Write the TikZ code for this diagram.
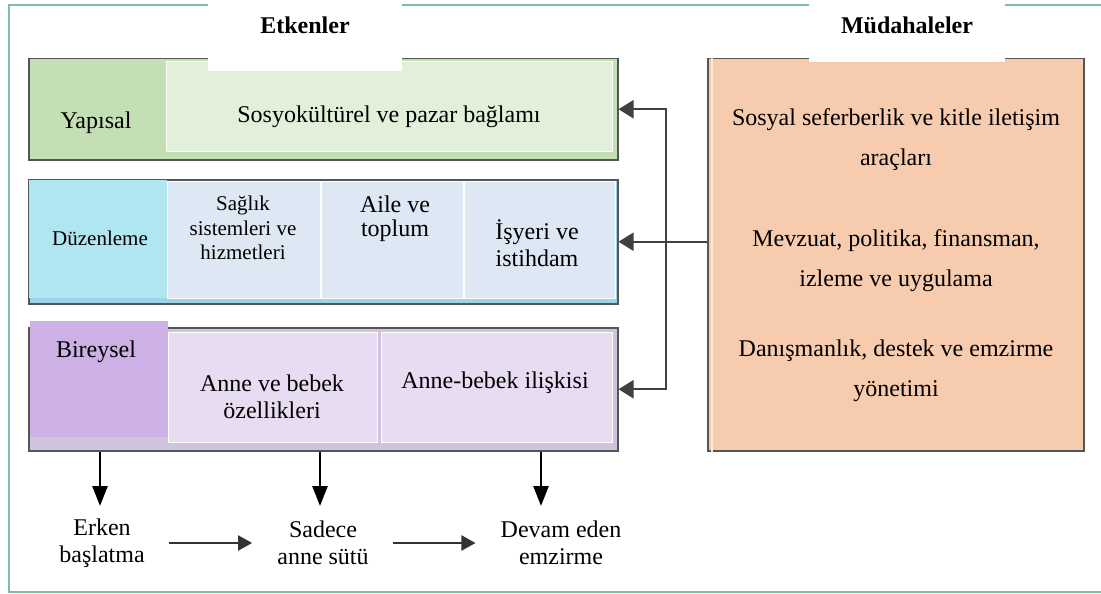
\documentclass[tikz,border=0pt]{standalone}
\usepackage{fontspec}
\setmainfont{Liberation Serif}
\usetikzlibrary{arrows.meta, positioning, shadows}

\definecolor{framegreen}{RGB}{125,190,155}
\definecolor{strucdark}{RGB}{197,223,180}
\definecolor{struclight}{RGB}{226,239,217}
\definecolor{regcyan}{RGB}{176,230,242}
\definecolor{regbase}{RGB}{157,211,230}
\definecolor{reglight}{RGB}{221,232,244}
\definecolor{indpurple}{RGB}{205,176,230}
\definecolor{indbase}{RGB}{208,195,224}
\definecolor{indlight}{RGB}{232,220,243}
\definecolor{intsalmon}{RGB}{247,203,173}
\definecolor{boxline}{RGB}{85,85,85}

\begin{document}
\begin{tikzpicture}[
    x=1pt, y=-1pt,
    band/.style={rectangle, draw=boxline, line width=1.5pt, anchor=north west, inner sep=0pt, drop shadow={shadow xshift=1.5pt, shadow yshift=-1.5pt, fill=black!40}},
    cell/.style={rectangle, draw=white, line width=1pt, anchor=north west, inner sep=0pt},
    tab/.style={rectangle, anchor=north west, inner sep=0pt},
    patch/.style={rectangle, fill=white, anchor=north west, inner sep=0pt},
    txt/.style={align=center, inner sep=0pt, font=\fontsize{24}{27}\selectfont},
    small/.style={align=center, inner sep=0pt, font=\fontsize{21}{24.5}\selectfont},
    wide/.style={align=center, inner sep=0pt, font=\fontsize{24}{40}\selectfont},
    head/.style={inner sep=0pt, font=\fontsize{24}{28}\selectfont\bfseries},
    side/.style={draw=black!75, line width=2pt, >={Triangle[length=15pt, width=18pt]}},
    down/.style={-{Triangle[length=20pt, width=15pt]}, line width=2.5pt},
    flow/.style={-{Triangle[length=14pt, width=15pt]}, draw=black!80, line width=2pt, shorten <=24pt, shorten >=25pt}
]
    \useasboundingbox (0,0) rectangle (1101,594);

    % OUTER FRAME
    \draw[framegreen, line width=2.5pt] (9,5) rectangle (1120,592);

    % STRUCTURAL ROW
    \node (yap) [band, fill=strucdark, minimum width=589, minimum height=101] at (28,58) {};
    \node (yapc) [cell, fill=struclight, minimum width=446, minimum height=90] at (166,61) {};
    \node[txt] (yapt) at (96,123) {Yapısal};
    \node[txt] (yapct) at (389,117) {Sosyokültürel ve pazar bağlamı};

    % REGULATORY ROW
    \node (duz) [band, fill=regbase, minimum width=589, minimum height=124] at (28,179) {};
    \node (duz0) [tab, fill=regcyan, minimum width=138, minimum height=118] at (29,180) {};
    \node (duz1) [cell, fill=reglight, minimum width=153, minimum height=117] at (167,181) {};
    \node (duz2) [cell, fill=reglight, minimum width=142, minimum height=117, right=0pt of duz1] {};
    \node (duz3) [cell, fill=reglight, minimum width=151, minimum height=117, right=0pt of duz2] {};
    \node[small] (duzt) at (100,238) {Düzenleme};
    \node[small] (duz1t) at (243,228) {Sağlık\\sistemleri ve\\hizmetleri};
    \node[txt, font=\fontsize{24}{24}\selectfont] (duz2t) at (395,219) {Aile ve\\toplum};
    \node[txt] (duz3t) at (537,243) {İşyeri ve\\istihdam};

    % INDIVIDUAL ROW
    \node (bir) [band, fill=indbase, minimum width=589, minimum height=123] at (28,327) {};
    \node (bir0) [tab, fill=indpurple, minimum width=138, minimum height=116] at (30,321) {};
    \node (bir1) [cell, fill=indlight, minimum width=209, minimum height=110] at (168,332) {};
    \node (bir2) [cell, fill=indlight, minimum width=231, minimum height=110] at (381,332) {};
    \node[txt] (bir0t) at (96,352) {Bireysel};
    \node[txt] (bir1t) at (272,397) {Anne ve bebek\\özellikleri};
    \node[txt] (bir2t) at (495,383) {Anne-bebek ilişkisi};

    % INTERVENTIONS
    \node (mud) [band, fill=intsalmon, minimum width=376, minimum height=392] at (707,58) {};
    \draw[white!55!intsalmon, line width=2pt] ([xshift=5pt]mud.north west) -- ([xshift=5pt]mud.south west);
    \node[wide] (mud1) at (896,140) {Sosyal seferberlik ve kitle iletişim\\araçları};
    \node[wide] (mud2) at (896,261) {Mevzuat, politika, finansman,\\izleme ve uygulama};
    \node[wide] (mud3) at (896,371) {Danışmanlık, destek ve emzirme\\yönetimi};

    % TITLES
    \node (etkp) [patch, minimum width=194, minimum height=71] at (208,0) {};
    \node[head] (etk) at (305,25) {Etkenler};
    \node (mudp) [patch, minimum width=196, minimum height=62] at (809,0) {};
    \node[head] (mudt) at (907,25) {Müdahaleler};

    % OUTCOMES
    \node[txt] (erken) at (102,543) {Erken\\başlatma};
    \node[txt] (sadece) at (323,543) {Sadece\\anne sütü};
    \node[txt] (devam) at (561,543) {Devam eden\\emzirme};

    % CONNECTORS
    \coordinate (bus) at (666,0);
    \draw[side, ->] (mud.west |- duz.east) -- (duz.east);
    \draw[side, <->] (yap.east) -- (yap.east -| bus) -- (bir.east -| bus) -- (bir.east);

    \coordinate (d1) at (100,506);
    \coordinate (d2) at (320,506);
    \coordinate (d3) at (541,506);
    \draw[down] (bir.south -| d1) -- (d1);
    \draw[down] (bir.south -| d2) -- (d2);
    \draw[down] (bir.south -| d3) -- (d3);

    \draw[flow] (erken) -- (sadece);
    \draw[flow] (sadece) -- (devam);

\end{tikzpicture}
\end{document}
